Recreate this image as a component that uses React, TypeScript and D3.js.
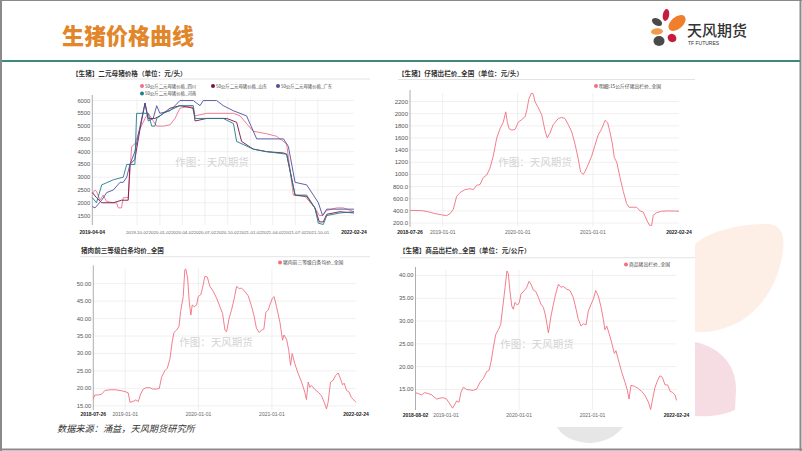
import React from 'react';
import * as d3 from 'd3';

const W = 802;
const H = 451;

// ---------- Chart 1: 二元母猪价格 ----------
const sowXTicks = ["2019-04-04","2019-10-02","2020-01-02","2020-04-02","2020-07-02","2020-10-02","2021-01-02","2021-04-02","2021-07-02","2021-10-01","2022-02-24"];
const sowYTicks = [1500,2000,2500,3000,3500,4000,4500,5000,5500,6000];
const sowNames = ["50公斤二元母猪价格_四川","50公斤二元母猪价格_山东","50公斤二元母猪价格_广东","50公斤二元母猪价格_河南"];

const sichuanDates = ["2019-04-04","2019-04-15","2019-04-21","2019-05-05","2019-05-18","2019-06-01","2019-06-28","2019-07-11","2019-07-18","2019-07-31","2019-08-07","2019-08-27","2019-09-10","2019-09-23","2019-10-14","2019-11-03","2019-11-16","2019-12-20","2020-01-16","2020-02-12","2020-03-03","2020-03-23","2020-05-09","2020-05-23","2020-07-09","2020-10-25","2020-11-21","2020-12-17","2021-01-13","2021-03-08","2021-04-18","2021-05-28","2021-06-24","2021-08-10","2021-09-19","2021-10-07","2021-10-20","2021-11-06","2021-12-16","2022-01-12","2022-02-24"];
const sichuanValues = [2350,2500,2450,2100,2300,2050,2000,2000,1800,1800,2200,2200,4200,4300,4900,5300,5500,5000,5000,5050,5300,5700,5800,5400,5500,5500,5400,5100,4800,4700,4600,4300,2300,2250,1800,1500,1500,1700,1800,1800,1650];

const shandongDates = ["2019-04-04","2019-04-21","2019-05-12","2019-06-28","2019-07-31","2019-08-27","2019-09-03","2019-09-23","2019-10-14","2019-11-03","2019-11-16","2019-12-13","2020-01-02","2020-02-12","2020-03-23","2020-05-16","2020-05-23","2020-07-09","2020-09-28","2020-11-07","2020-11-27","2021-01-13","2021-03-08","2021-05-15","2021-05-28","2021-07-01","2021-08-17","2021-09-19","2021-10-07","2021-10-23","2021-11-06","2021-12-29","2022-02-24"];
const shandongValues = [2400,2200,2000,2000,2100,2100,3500,3700,4900,5900,5300,5300,5400,5700,5800,5700,5200,5300,5300,5150,4400,4100,4000,3950,3900,2300,2250,1800,1250,1250,1550,1650,1600];

const guangdongDates = ["2019-04-04","2019-04-15","2019-05-12","2019-06-01","2019-06-28","2019-07-25","2019-08-07","2019-08-21","2019-09-03","2019-09-23","2019-10-14","2019-11-03","2019-11-16","2019-12-06","2019-12-20","2020-01-02","2020-02-12","2020-03-03","2020-03-23","2020-05-16","2020-06-12","2020-06-25","2020-08-18","2020-09-14","2020-10-25","2020-12-17","2021-01-27","2021-05-15","2021-06-04","2021-07-01","2021-08-17","2021-09-13","2021-10-03","2021-10-20","2021-11-06","2022-02-24"];
const guangdongValues = [1850,1800,2100,2400,2500,2800,2800,3000,3500,4000,5000,5900,5200,5300,5800,5500,5600,5800,6000,6000,5800,6000,6000,5800,5600,5400,4500,4500,4200,2800,2700,2300,2000,1500,1750,1750];

const henanDates = ["2019-04-04","2019-04-21","2019-05-12","2019-06-28","2019-08-07","2019-08-21","2019-09-23","2019-09-30","2019-11-16","2019-11-30","2019-12-13","2019-12-20","2020-01-16","2020-03-23","2020-05-16","2020-05-23","2020-09-14","2020-10-25","2020-11-07","2021-01-13","2021-03-08","2021-05-28","2021-07-01","2021-08-17","2021-09-19","2021-10-03","2021-10-23","2021-11-06","2021-12-29","2022-02-24"];
const henanValues = [2200,2000,2700,2900,3000,3500,3500,5500,5500,5000,5000,5300,5500,5800,5800,5300,5300,5100,4400,4100,4000,3900,2300,2300,1800,1200,1150,1500,1600,1650];

// ---------- Chart 2: 仔猪出栏价 ----------
const pigletXTicks = ["2018-07-26","2019-01-01","2020-01-01","2021-01-01","2022-02-24"];
const pigletYTicks = [200,400,600,800,1000,1200,1400,1600,1800,2000,2200];
const pigletName = "明细:15公斤仔猪出栏价_全国";
const pigletDates = ["2018-07-26","2018-09-21","2018-10-23","2018-11-25","2018-12-27","2019-01-20","2019-02-06","2019-02-22","2019-03-10","2019-03-26","2019-04-20","2019-05-14","2019-05-30","2019-06-15","2019-07-02","2019-07-18","2019-08-03","2019-08-19","2019-09-04","2019-09-21","2019-10-07","2019-10-23","2019-11-04","2019-11-12","2019-11-21","2019-12-03","2019-12-19","2020-01-04","2020-01-20","2020-02-06","2020-02-14","2020-02-25","2020-03-09","2020-03-17","2020-03-25","2020-04-10","2020-04-27","2020-05-13","2020-05-24","2020-06-06","2020-06-22","2020-07-17","2020-08-02","2020-08-18","2020-09-03","2020-09-20","2020-10-06","2020-10-22","2020-11-02","2020-11-15","2020-11-24","2020-12-10","2020-12-26","2021-01-11","2021-01-27","2021-02-13","2021-03-01","2021-03-14","2021-03-25","2021-04-06","2021-04-15","2021-04-27","2021-05-13","2021-05-29","2021-06-14","2021-06-26","2021-07-17","2021-08-02","2021-08-18","2021-09-03","2021-09-20","2021-10-03","2021-10-14","2021-10-22","2021-11-07","2021-12-02","2022-01-03","2022-02-24"];
const pigletValues = [408,405,385,355,335,322,355,430,640,700,750,765,750,820,835,950,990,1100,1300,1600,1750,1860,2030,1850,1750,1730,1740,1860,1900,1950,2050,2250,2340,2320,2200,2100,1980,1720,1600,1680,1820,1920,1940,1920,1820,1700,1500,1250,1040,1000,1050,1170,1300,1480,1650,1750,1890,1850,1700,1500,1280,1200,950,720,520,460,460,460,400,380,250,165,160,330,370,395,400,395];

// ---------- Chart 3: 猪肉前三等级白条均价 ----------
const porkXTicks = ["2018-07-26","2019-01-01","2020-01-01","2021-01-01","2022-02-24"];
const porkYTicks = [15,20,25,30,35,40,45,50];
const porkName = "猪肉前三等级白条均价_全国";
const porkDates = ["2018-07-26","2018-08-03","2018-08-20","2018-09-05","2018-09-22","2018-10-17","2018-11-11","2018-12-06","2018-12-31","2019-01-16","2019-01-25","2019-02-10","2019-02-23","2019-03-07","2019-03-19","2019-04-01","2019-04-18","2019-05-04","2019-05-17","2019-06-06","2019-06-20","2019-07-01","2019-07-18","2019-07-30","2019-08-12","2019-08-23","2019-09-01","2019-09-14","2019-09-26","2019-10-04","2019-10-17","2019-10-25","2019-10-30","2019-11-08","2019-11-16","2019-11-24","2019-12-01","2019-12-11","2019-12-23","2019-12-31","2020-01-12","2020-01-21","2020-02-02","2020-02-14","2020-02-27","2020-03-15","2020-03-31","2020-04-17","2020-04-30","2020-05-12","2020-05-20","2020-06-02","2020-06-14","2020-06-26","2020-07-09","2020-07-22","2020-08-03","2020-08-19","2020-09-05","2020-09-22","2020-10-03","2020-10-16","2020-10-30","2020-11-10","2020-11-22","2020-12-02","2020-12-14","2020-12-22","2021-01-04","2021-01-12","2021-01-24","2021-02-10","2021-02-23","2021-03-02","2021-03-15","2021-03-26","2021-04-04","2021-04-12","2021-04-25","2021-05-12","2021-05-29","2021-06-14","2021-06-22","2021-07-01","2021-07-09","2021-07-17","2021-08-03","2021-08-20","2021-09-05","2021-09-22","2021-09-30","2021-10-08","2021-10-20","2021-11-02","2021-11-15","2021-11-27","2021-12-09","2021-12-19","2021-12-27","2022-01-08","2022-01-21","2022-02-01","2022-02-24"];
const porkValues = [17.0,18.1,18.1,18.3,19.4,19.6,19.6,19.4,19.1,18.7,16.0,16.3,16.7,16.2,18.4,19.8,20.2,20.2,19.8,19.8,20.0,23.2,25.1,25.8,28.5,33.3,36.0,36.7,37.7,42.0,46.3,54.0,54.2,51.6,44.9,41.0,43.9,43.4,43.9,46.3,46.8,48.7,52.1,51.9,49.2,47.8,45.9,43.4,41.5,36.7,36.2,40.1,42.5,45.4,49.2,48.6,48.7,47.8,46.5,43.4,41.0,37.2,36.0,36.7,37.0,41.8,42.5,43.9,45.9,46.3,43.4,38.9,33.8,35.3,34.1,30.9,26.6,30.0,27.1,24.2,21.8,18.9,16.8,21.8,20.3,20.8,19.7,18.9,17.9,15.5,14.1,16.0,21.8,22.3,23.7,24.4,22.7,21.0,21.5,19.4,18.9,17.4,16.0];

// ---------- Chart 4: 商品出栏价 ----------
const hogXTicks = ["2018-08-02","2019-01-01","2020-01-01","2021-01-01","2022-02-24"];
const hogYTicks = [15,20,25,30,35,40];
const hogName = "商品猪出栏价_全国";
const hogDates = ["2018-08-02","2018-08-16","2018-09-02","2018-09-15","2018-10-05","2018-10-22","2018-11-04","2018-11-16","2018-12-02","2018-12-19","2019-01-04","2019-01-21","2019-02-03","2019-02-15","2019-02-23","2019-03-07","2019-03-17","2019-03-29","2019-04-14","2019-05-01","2019-05-18","2019-06-03","2019-06-20","2019-07-06","2019-07-23","2019-08-04","2019-08-14","2019-08-25","2019-09-06","2019-09-19","2019-10-01","2019-10-11","2019-10-23","2019-11-01","2019-11-08","2019-11-16","2019-11-25","2019-12-03","2019-12-11","2019-12-23","2020-01-02","2020-01-10","2020-01-27","2020-02-07","2020-02-19","2020-02-29","2020-03-12","2020-03-24","2020-04-06","2020-04-19","2020-05-01","2020-05-12","2020-05-26","2020-06-08","2020-06-20","2020-07-01","2020-07-15","2020-07-28","2020-08-08","2020-08-25","2020-09-11","2020-09-27","2020-10-11","2020-10-22","2020-11-05","2020-11-16","2020-11-30","2020-12-11","2020-12-25","2021-01-05","2021-01-17","2021-01-30","2021-02-13","2021-02-24","2021-03-04","2021-03-13","2021-03-24","2021-04-07","2021-04-20","2021-04-28","2021-05-10","2021-05-26","2021-06-12","2021-06-24","2021-07-02","2021-07-12","2021-07-29","2021-08-14","2021-09-03","2021-09-20","2021-10-07","2021-10-18","2021-10-28","2021-11-09","2021-11-22","2021-12-04","2021-12-15","2021-12-29","2022-01-11","2022-01-23","2022-02-03","2022-02-17","2022-02-24"];
const hogValues = [14.3,14.1,13.8,14.3,14.1,13.8,13.3,12.9,13.1,13.2,12.9,11.8,10.9,11.8,12.5,12.2,14.4,15.5,15.0,14.9,14.8,15.1,16.6,17.4,18.9,19.2,21.1,24.1,27.0,28.1,29.2,33.0,37.4,41.0,40.4,36.7,33.3,32.6,34.1,33.5,34.1,35.9,36.7,37.3,38.7,38.1,36.8,36.5,35.2,33.7,33.0,31.1,27.4,31.1,33.7,35.9,38.1,37.4,37.6,37.0,36.7,35.2,32.6,30.4,28.9,29.4,29.2,32.2,33.7,34.8,36.7,35.5,33.0,30.4,28.1,28.9,27.4,25.2,22.9,23.5,21.5,18.9,16.6,14.8,12.9,15.9,15.7,15.3,14.6,13.7,12.2,10.6,12.9,15.5,17.0,18.0,17.7,16.0,16.0,14.6,14.4,13.8,12.6];

const parse = d3.timeParse("%Y-%m-%d");

type Series = { dates: string[]; values: number[]; color: string };
type LegendItem = { label: string; color: string; x: number; y: number };

type ChartProps = {
  title: string; titleX: number; titleY: number;
  rule: [number, number, number];
  legend: LegendItem[]; legendSize: number;
  left: number; right: number; top: number; bottom: number;
  xDomain: [string, string]; yDomain: [number, number];
  xTicks: string[]; yTicks: number[]; yFmt: (v: number) => string;
  series: Series[]; labelY: number; xLabelSize: number; xInnerSize: number; yLabelSize: number;
  wmX: number; wmY: number;
};

const CJK = "'Noto Sans CJK SC', 'Noto Sans', sans-serif";
const LAT = "'Liberation Sans', Arial, sans-serif";

function Chart(p: ChartProps) {
  const x = d3.scaleTime().domain([parse(p.xDomain[0])!, parse(p.xDomain[1])!]).range([p.left, p.right]);
  const y = d3.scaleLinear().domain(p.yDomain).range([p.bottom, p.top]);
  return (
    <g>
      <text x={p.titleX} y={p.titleY} fontFamily={CJK} fontWeight={700} fontSize={6.6} fill="#333">{p.title}</text>
      <line x1={p.rule[0]} x2={p.rule[1]} y1={p.rule[2]} y2={p.rule[2]} stroke="#dcdcdc" strokeWidth={0.8} />
      {p.legend.map((l, i) => (
        <g key={i}>
          <circle cx={l.x} cy={l.y} r={2} fill={l.color} />
          <text x={l.x + 3} y={l.y + 1.6} fontFamily={CJK} fontSize={p.legendSize} fill="#444">{l.label}</text>
        </g>
      ))}
      {p.yTicks.map((t) => (
        <g key={t}>
          <line x1={p.left} x2={p.right} y1={y(t)} y2={y(t)} stroke="#ececec" strokeWidth={0.8} />
          <text x={p.left - 2} y={y(t) + 2} textAnchor="end" fontFamily={LAT} fontSize={p.yLabelSize} fill="#555">{p.yFmt(t)}</text>
        </g>
      ))}
      {p.xTicks.map((t, i) => {
        const xv = x(parse(t)!);
        const edge = i === 0 || i === p.xTicks.length - 1;
        return (
          <g key={t}>
            {!edge && <line x1={xv} x2={xv} y1={p.top} y2={p.bottom} stroke="#ececec" strokeWidth={0.8} />}
            <text x={xv} y={p.labelY} textAnchor="middle" fontFamily={LAT} fontSize={edge ? p.xLabelSize : p.xInnerSize}
              fontWeight={edge ? 700 : 400} fill={edge ? "#222" : "#666"}>{t}</text>
          </g>
        );
      })}
      <line x1={p.left} x2={p.left} y1={p.top - 3} y2={p.bottom} stroke="#999" strokeWidth={0.8} />
      <text x={p.wmX} y={p.wmY} textAnchor="middle" fontFamily={CJK} fontSize={10.5} fill="#d4d4d4">作图：天风期货</text>
      {p.series.map((s, i) => {
        const pts = s.dates.map((d, k) => [x(parse(d)!), y(s.values[k])] as [number, number]);
        const path = d3.line().curve(d3.curveLinear)(pts) || "";
        return <path key={i} d={path} fill="none" stroke={s.color} strokeWidth={0.9} />;
      })}
    </g>
  );
}

const PINK = "#f0707f";
const c1 = ["#f0708a", "#7a1245", "#4d4f9e", "#1f7e8a"];

export default function App() {
  const f0 = (v: number) => String(v);
  const fPig = (v: number) => (v >= 1000 ? String(v) : v.toFixed(1));
  const f2 = (v: number) => v.toFixed(2);
  return (
    <svg width={W} height={H} style={{ position: 'absolute', left: 0, top: 0, background: '#fff' }}>
      <rect x={0} y={0} width={W} height={H} fill="#fff" />
      {/* decorations */}
      <path d="M695,244 C712,229 745,224 768,224 C784,225 786,240 781,262 C774,292 752,328 705,332 L695,332 Z" fill="#fdeee6" />
      <path d="M695,342 C722,348 736,366 736,390 L735,410 C722,416 706,417 695,416 Z" fill="#f6dde3" />
      <path d="M557,427 L623,427 C615,438 600,443 590,443 C578,443 563,438 557,427 Z" fill="#e6e6e6" />
      {/* frame */}
      <line x1={0} x2={W} y1={0.5} y2={0.5} stroke="#8a8a8a" strokeWidth={1} />
      <line x1={1} x2={1} y1={0} y2={H} stroke="#8a8a8a" strokeWidth={2} />
      <line x1={800.5} x2={800.5} y1={0} y2={H} stroke="#8a8a8a" strokeWidth={2} />
      <line x1={0} x2={W} y1={449.5} y2={449.5} stroke="#8a8a8a" strokeWidth={2} />
      <line x1={2} x2={800} y1={61} y2={61} stroke="#3c8a7e" strokeWidth={2} />
      {/* header */}
      <text x={62} y={44} fontFamily={CJK} fontWeight={900} fontSize={22} fill="#e2862b">生猪价格曲线</text>
      <g>
        <ellipse cx={666} cy={15} rx={3.2} ry={6} fill="#c41d3d" transform="rotate(10 666 15)" />
        <ellipse cx={657} cy={22} rx={5.5} ry={3.5} fill="#4a4a4a" transform="rotate(30 657 22)" />
        <ellipse cx={677} cy={23} rx={10} ry={6} fill="#f07e2c" transform="rotate(-40 677 23)" />
        <ellipse cx={657} cy={31.5} rx={6} ry={3.2} fill="#f19b4d" transform="rotate(-5 657 31.5)" />
        <ellipse cx={659} cy={41} rx={5.5} ry={5} fill="#4a4a4a" />
        <ellipse cx={672} cy={38} rx={4.5} ry={4} fill="#c41d3d" transform="rotate(30 672 38)" />
        <text x={687} y={36} fontFamily={CJK} fontWeight={500} fontSize={15} fill="#333">天风期货</text>
        <text x={688} y={45} fontFamily={LAT} fontSize={5} fill="#333">TF FUTURES</text>
      </g>
      {/* Chart 1 */}
      <Chart title="【生猪】二元母猪价格（单位：元/头）" titleX={72} titleY={76}
        rule={[77, 370, 79]} legendSize={4.4}
        legend={[
          { label: sowNames[0], color: c1[0], x: 142, y: 86 },
          { label: sowNames[1], color: c1[1], x: 213, y: 86 },
          { label: sowNames[2], color: c1[2], x: 278, y: 86 },
          { label: sowNames[3], color: c1[3], x: 142, y: 93.5 },
        ]}
        left={92.3} right={354} top={98} bottom={225}
        xDomain={["2019-04-04", "2022-02-24"]} yDomain={[1130, 6100]}
        xTicks={sowXTicks} yTicks={sowYTicks} yFmt={f0}
        labelY={233.5} xLabelSize={5} xInnerSize={4.4} yLabelSize={5.8}
        wmX={212} wmY={166}
        series={[
          { dates: sichuanDates, values: sichuanValues, color: c1[0] },
          { dates: shandongDates, values: shandongValues, color: c1[1] },
          { dates: guangdongDates, values: guangdongValues, color: c1[2] },
          { dates: henanDates, values: henanValues, color: c1[3] },
        ]} />
      {/* Chart 2 */}
      <Chart title="【生猪】仔猪出栏价_全国（单位：元/头）" titleX={398} titleY={75.5}
        rule={[398, 695, 79.5]} legendSize={4.8}
        legend={[{ label: pigletName, color: PINK, x: 596, y: 86 }]}
        left={410} right={679} top={93} bottom={226.7}
        xDomain={["2018-07-26", "2022-02-24"]} yDomain={[140, 2340]}
        xTicks={pigletXTicks} yTicks={pigletYTicks} yFmt={fPig}
        labelY={234} xLabelSize={5} xInnerSize={5} yLabelSize={6}
        wmX={535} wmY={166}
        series={[{ dates: pigletDates, values: pigletValues, color: PINK }]} />
      {/* Chart 3 */}
      <Chart title="猪肉前三等级白条均价_全国" titleX={81} titleY={252.5}
        rule={[80, 370, 256.7]} legendSize={4.8}
        legend={[{ label: porkName, color: PINK, x: 280, y: 262.5 }]}
        left={93.3} right={356} top={268.3} bottom={410}
        xDomain={["2018-07-26", "2022-02-24"]} yDomain={[13.8, 54.4]}
        xTicks={porkXTicks} yTicks={porkYTicks} yFmt={f2}
        labelY={415.5} xLabelSize={5} xInnerSize={5} yLabelSize={5.8}
        wmX={216} wmY={346}
        series={[{ dates: porkDates, values: porkValues, color: PINK }]} />
      {/* Chart 4 */}
      <Chart title="【生猪】商品出栏价_全国（单位：元/公斤）" titleX={399} titleY={252.5}
        rule={[400, 695, 257.7]} legendSize={4.8}
        legend={[{ label: hogName, color: PINK, x: 626, y: 264.5 }]}
        left={415.5} right={676.5} top={270} bottom={410}
        xDomain={["2018-08-02", "2022-02-24"]} yDomain={[10.5, 41.2]}
        xTicks={hogXTicks} yTicks={hogYTicks} yFmt={f2}
        labelY={417} xLabelSize={5} xInnerSize={5} yLabelSize={5.8}
        wmX={537} wmY={348}
        series={[{ dates: hogDates, values: hogValues, color: PINK }]} />
      {/* footer */}
      <text x={57} y={432} fontFamily={CJK} fontStyle="italic" fontSize={9.2} fill="#333">数据来源：涌益，天风期货研究所</text>
    </svg>
  );
}
